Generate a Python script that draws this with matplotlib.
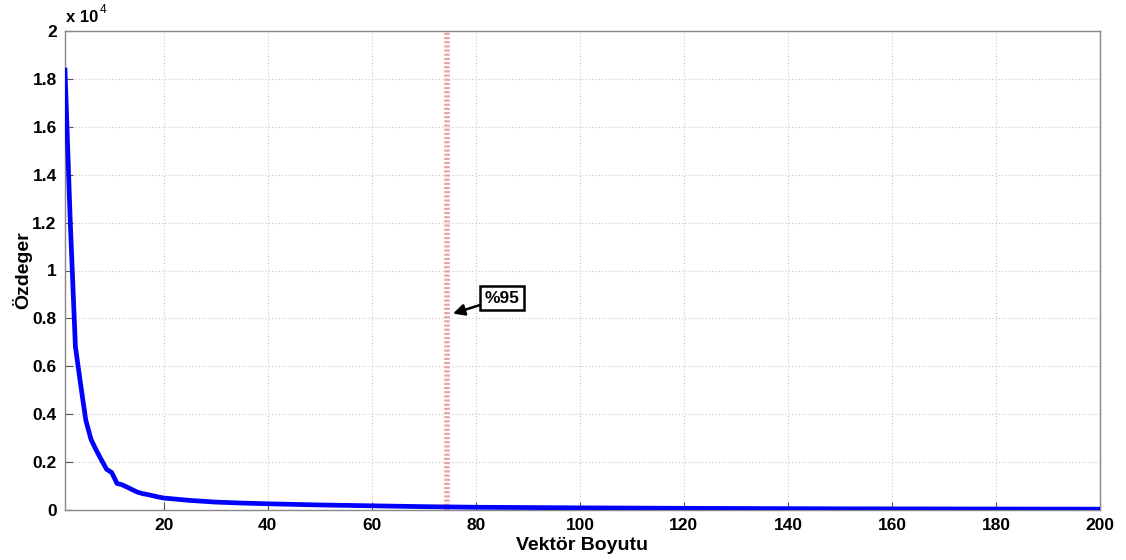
import matplotlib
matplotlib.use("Agg")
import matplotlib.pyplot as plt
from matplotlib.ticker import FixedLocator

# ---- data ----
vec_size = [1, 2, 3, 4, 5, 6, 7, 8, 9, 10, 11, 12, 13, 14, 15, 16, 17, 18, 19, 20,
            25, 30, 35, 40, 50, 60, 70, 80, 100, 120, 150, 200]
eigen = [18370, 12100, 6820, 5250, 3750, 2950, 2500, 2090, 1700, 1560, 1110, 1050,
         950, 840, 740, 680, 640, 590, 540, 500,
         400, 330, 290, 260, 210, 175, 140, 115, 90, 70, 50, 35]
threshold_x = 74.5
annot_text = "%95"
annot_xy = (75.6, 8200)
annot_text_xy = (85, 8850)
xticks = [20, 40, 60, 80, 100, 120, 140, 160, 180, 200]
yticks = [0, 2000, 4000, 6000, 8000, 10000, 12000, 14000, 16000, 18000, 20000]
ytick_labels = ["0", "0.2", "0.4", "0.6", "0.8", "1", "1.2", "1.4", "1.6", "1.8", "2"]
scale = 1e4

plt.rcParams['font.family'] = ['Liberation Sans', 'DejaVu Sans']
plt.rcParams['font.weight'] = 'bold'

fig = plt.figure(figsize=(11.26, 5.6), dpi=100)
ax = fig.add_axes([65 / 1126, 1 - 510 / 560, 1035 / 1126, 479 / 560])

ax.plot(vec_size, [v / scale for v in eigen], color='#0000ff', lw=3.4,
        solid_joinstyle='round', zorder=3)
ax.axvline(threshold_x, color='#eaa2a2', lw=4, linestyle=(0, (0.4, 0.35)), zorder=2)

ax.annotate(annot_text, xy=(annot_xy[0], annot_xy[1] / scale),
            xytext=(annot_text_xy[0], annot_text_xy[1] / scale),
            fontsize=12.5, fontweight='bold', ha='center', va='center',
            bbox=dict(boxstyle='square,pad=0.25', fc='white', ec='black', lw=1.8),
            arrowprops=dict(arrowstyle='-|>', color='black', lw=1.8,
                            mutation_scale=17, shrinkA=0, shrinkB=0),
            zorder=5)

ax.set_xlim(1, 200)
ax.set_ylim(0, 2)
ax.xaxis.set_major_locator(FixedLocator(xticks))
ax.set_yticks([t / scale for t in yticks])
ax.set_yticklabels(ytick_labels)
ax.tick_params(direction='in', length=6, width=0.8, color='#555555',
               labelsize=12.5, pad=6)
for lab in ax.get_xticklabels() + ax.get_yticklabels():
    lab.set_fontweight('bold')
ax.grid(True, color='#c8c8c8', linestyle=(0, (1, 2)), lw=0.8)
for s in ax.spines.values():
    s.set_color('#888888')
    s.set_linewidth(1.0)

ax.set_xlabel('Vektör Boyutu', fontsize=14, fontweight='bold', labelpad=3)
fig.text(22 / 1126, 1 - 270 / 560, 'Özdeger', fontsize=14, fontweight='bold',
         rotation=90, ha='center', va='center')

fig.text(66 / 1126, 1 - 18 / 560, 'x 10', fontsize=12, fontweight='bold',
         ha='left', va='center')
fig.text(100 / 1126, 1 - 10 / 560, '4', fontsize=8.5, fontweight='normal',
         ha='left', va='center')

fig.savefig('out.png', dpi=100)
